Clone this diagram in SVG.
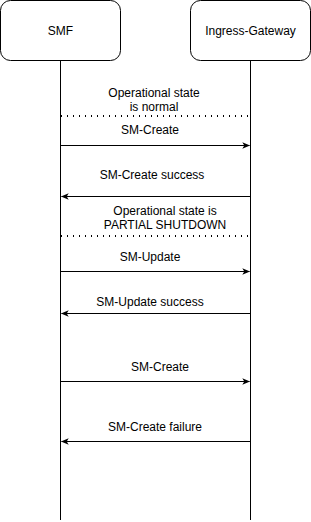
<svg xmlns="http://www.w3.org/2000/svg" width="311" height="522" viewBox="0 0 311 522">
<style>
.box{fill:#fff;stroke:#000;stroke-width:1}
.life{stroke:#000;stroke-width:1;fill:none}
.msg{stroke:#000;stroke-width:1;fill:none}
.dot{stroke:#000;stroke-width:2;stroke-dasharray:1 5;fill:none}
text{font-family:"Liberation Sans",Arial,sans-serif;font-size:12px;fill:#000;text-anchor:middle}
</style>
<defs>
<marker id="ah" viewBox="0 0 10 10" refX="9" refY="5" markerWidth="8" markerHeight="8" markerUnits="userSpaceOnUse" orient="auto">
<path d="M0,1 L10,5 L0,9 L2.5,5 Z" fill="#000"/>
</marker>
</defs>
<g id="smf">
<rect class="box" x="0.5" y="0.5" width="120" height="60" rx="10"/>
<text x="60.5" y="35">SMF</text>
</g>
<g id="igw">
<rect class="box" x="190.5" y="0.5" width="120" height="60" rx="10"/>
<text x="250.5" y="35">Ingress-Gateway</text>
</g>
<g id="connectors">
<line class="life" x1="60.5" y1="60.5" x2="60.5" y2="520"/>
<line class="life" x1="250.5" y1="60.5" x2="250.5" y2="520"/>
<line class="dot" x1="61" y1="116" x2="250" y2="116"/>
<line class="dot" x1="61" y1="236" x2="250" y2="236"/>
<line class="msg" x1="60.5" y1="145.5" x2="249.5" y2="145.5" marker-end="url(#ah)"/>
<line class="msg" x1="250.5" y1="196.5" x2="61.5" y2="196.5" marker-end="url(#ah)"/>
<line class="msg" x1="60.5" y1="271.5" x2="249.5" y2="271.5" marker-end="url(#ah)"/>
<line class="msg" x1="250.5" y1="313.5" x2="61.5" y2="313.5" marker-end="url(#ah)"/>
<line class="msg" x1="60.5" y1="381.5" x2="249.5" y2="381.5" marker-end="url(#ah)"/>
<line class="msg" x1="250.5" y1="441.5" x2="61.5" y2="441.5" marker-end="url(#ah)"/>
</g>
<g id="labels">
<text x="154" y="97">Operational state</text>
<text x="154" y="111">is normal</text>
<text x="150" y="134">SM-Create</text>
<text x="152" y="179">SM-Create success</text>
<text x="165" y="215">Operational state is</text>
<text x="165" y="229">PARTIAL SHUTDOWN</text>
<text x="150" y="261">SM-Update</text>
<text x="150" y="306">SM-Update success</text>
<text x="160" y="371">SM-Create</text>
<text x="155" y="431">SM-Create failure</text>
</g>
</svg>
